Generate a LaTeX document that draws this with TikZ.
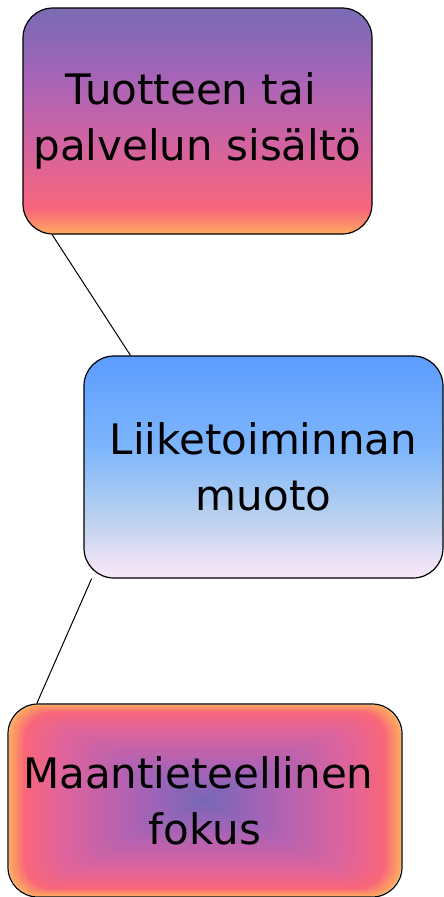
\documentclass[tikz,border=0pt]{standalone}
\usepackage{fontspec}
\setmainfont{DejaVu Sans}
\usetikzlibrary{backgrounds}

\definecolor{suntop}{HTML}{7B6BB4}
\definecolor{sunlav}{HTML}{8C68B6}
\definecolor{sunviolet}{HTML}{A664B8}
\definecolor{sunrose}{HTML}{D263A0}
\definecolor{sunred}{HTML}{F7667C}
\definecolor{sunor}{HTML}{FFAA60}
\definecolor{skytop}{HTML}{5C9CFF}
\definecolor{skymid}{HTML}{7EB6FC}
\definecolor{skypale}{HTML}{BCD2EE}
\definecolor{skymist}{HTML}{E6E0F4}
\definecolor{skybot}{HTML}{F9E8F8}
\definecolor{focor}{HTML}{FFAA60}
\definecolor{focred}{HTML}{F8667A}
\definecolor{focrose}{HTML}{E0649A}
\definecolor{focmauve}{HTML}{B862B0}
\definecolor{focviolet}{HTML}{9C64B8}
\definecolor{foccore}{HTML}{7468B4}

\pgfdeclareverticalshading{sunsetshade}{100bp}{color(0bp)=(sunor); color(25bp)=(sunor); color(30.5bp)=(sunred); color(45bp)=(sunrose); color(60bp)=(sunviolet); color(68bp)=(sunlav); color(75bp)=(suntop); color(100bp)=(suntop)}
\pgfdeclareverticalshading{skyshade}{100bp}{color(0bp)=(skybot); color(25bp)=(skybot); color(30bp)=(skymist); color(38bp)=(skypale); color(54bp)=(skymid); color(75bp)=(skytop); color(100bp)=(skytop)}

\tikzset{
  box/.style={draw, line width=1.2pt, rounded corners=30pt, inner sep=0pt, align=center, font=\fontsize{42}{56}\selectfont},
  link/.style={line width=1pt}
}

\begin{document}
\begin{tikzpicture}[x=1pt,y=-1pt]
            \useasboundingbox (0,0) rectangle (444,897);

            % rectangular glow behind the lowest box
            \foreach \ta/\tb/\ca/\cb in {1/0.92/focor/focred, 0.92/0.75/focred/focrose, 0.75/0.45/focrose/focmauve, 0.45/0.25/focmauve/focviolet, 0.25/0/focviolet/foccore}
              \foreach \i in {0,...,11} {
                \pgfmathsetmacro\sz{\ta-(\ta-\tb)*\i/12}
                \pgfmathsetmacro\mix{100*\i/12}
                \pgfmathsetmacro\rad{30*\sz}
                \fill[fill=\cb!\mix!\ca, rounded corners=\rad pt] (205-196*\sz,800.5-96*\sz) rectangle (205+196*\sz,800.5+96*\sz);
              }

            \node (b1) at (197.5,121) [box, shading=sunsetshade, minimum width=349pt, minimum height=226pt] {Tuotteen tai\kern.32em\\palvelun sisältö};
            \node (b2) at (263.5,467) [box, shading=skyshade, minimum width=359pt, minimum height=222pt] {Liiketoiminnan\\muoto};
            \node (b3) at (205,800.5) [box, minimum width=394pt, minimum height=193pt] {Maantieteellinen\kern.32em\\fokus};

            \begin{scope}[on background layer]
              \draw[link] (b1.218) -- (b2.140) (b2.213.4) -- (b3.150);
            \end{scope}

        \end{tikzpicture}
\end{document}
